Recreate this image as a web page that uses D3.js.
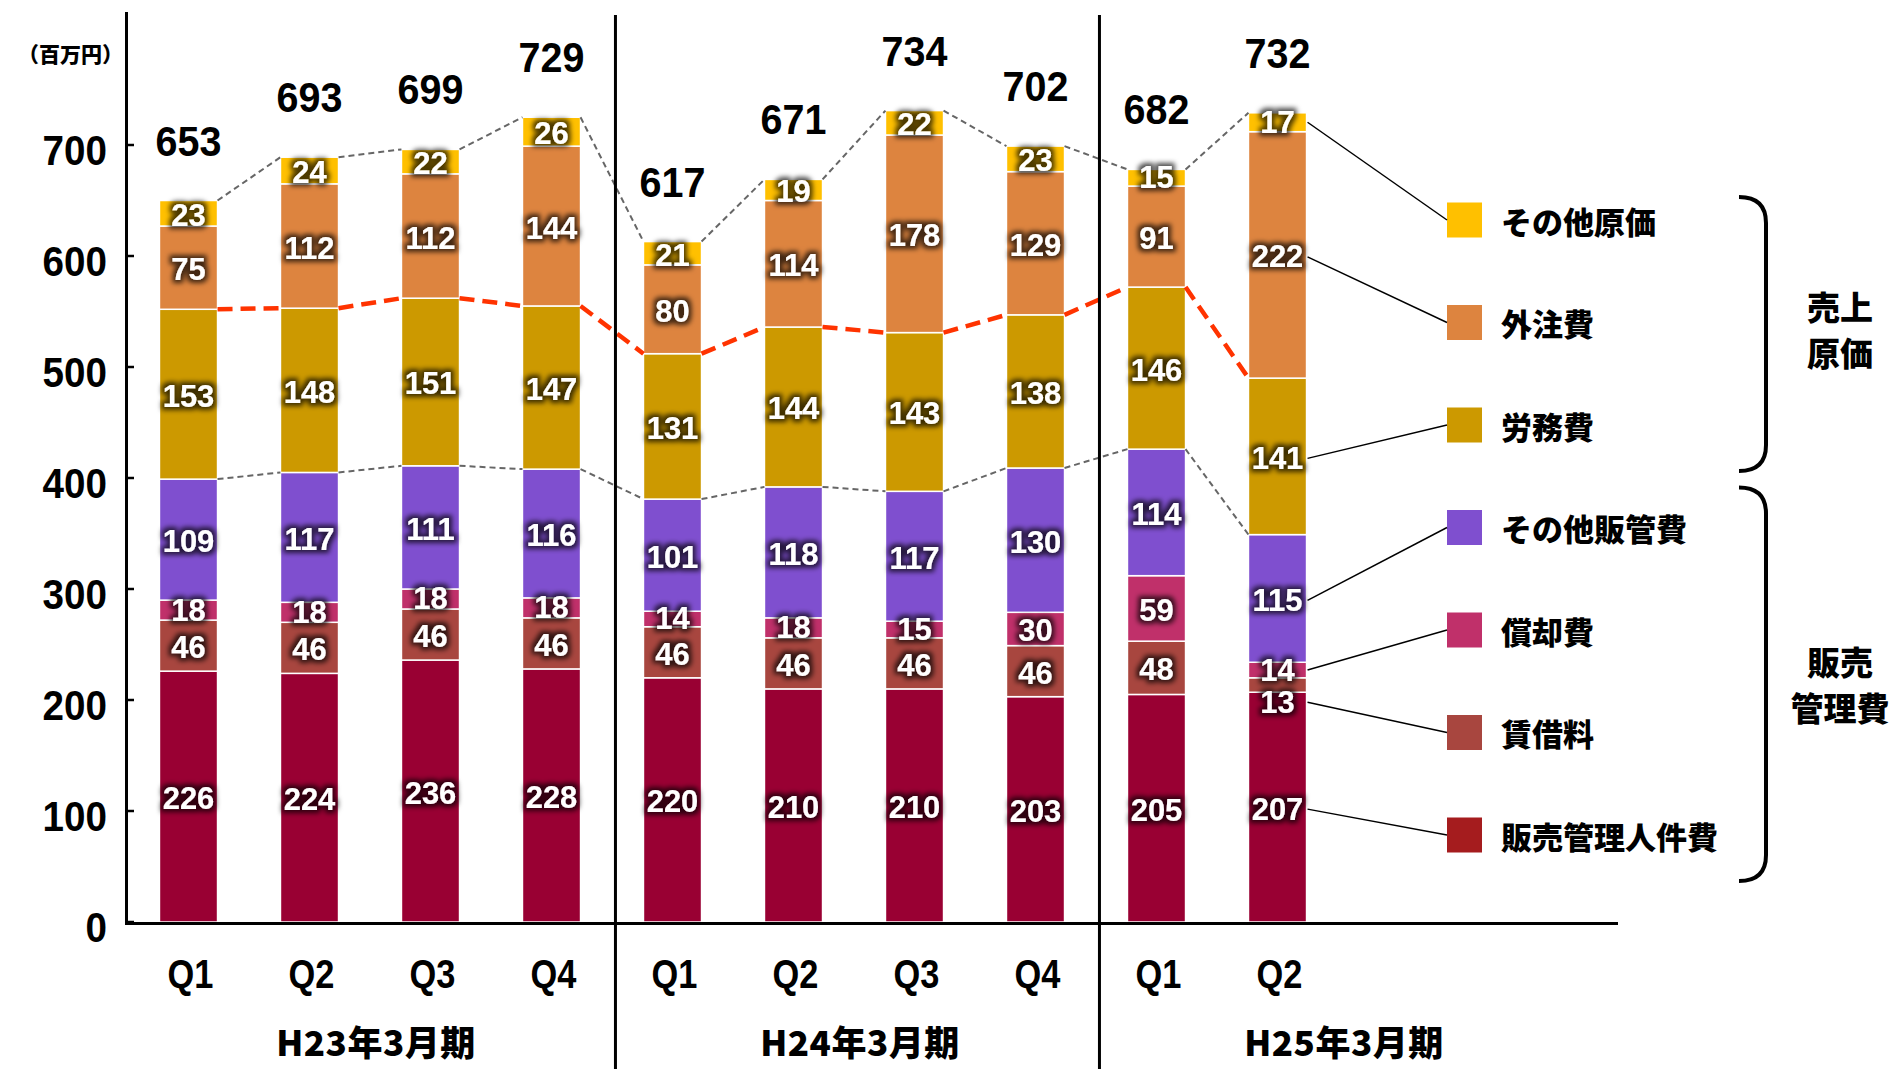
<!DOCTYPE html>
<html>
<head>
<meta charset="utf-8">
<script src="https://cdn.jsdelivr.net/npm/d3@7"></script>
<style>
  body { margin: 0; background: #fff; }
  svg { display: block; }
  .num { font-family: "Liberation Sans", Arial, sans-serif; font-weight: bold; }
  .jp { font-family: "Noto Sans CJK JP", sans-serif; font-weight: 900; }
</style>
</head>
<body>
<div id="chart"></div>
<script>
// data (百万円)
var quarters = ["Q1", "Q2", "Q3", "Q4", "Q1", "Q2", "Q3", "Q4", "Q1", "Q2"];
var periods = ["H23年3月期", "H24年3月期", "H25年3月期"];
var totals = [653, 693, 699, 729, 617, 671, 734, 702, 682, 732];

// stacked from the bottom up
var seriesNames = ["販売管理人件費", "賃借料", "償却費", "その他販管費", "労務費", "外注費", "その他原価"];
var jinkenhi     = [226, 224, 236, 228, 220, 210, 210, 203, 205, 207];
var chinshakuryo = [46, 46, 46, 46, 46, 46, 46, 46, 48, 13];
var shokyakuhi   = [18, 18, 18, 18, 14, 18, 15, 30, 59, 14];
var sonotaHankan = [109, 117, 111, 116, 101, 118, 117, 130, 114, 115];
var romuhi       = [153, 148, 151, 147, 131, 144, 143, 138, 146, 141];
var gaichuhi     = [75, 112, 112, 144, 80, 114, 178, 129, 91, 222];
var sonotaGenka  = [23, 24, 22, 26, 21, 19, 22, 23, 15, 17];

var yTicks = [0, 100, 200, 300, 400, 500, 600, 700];
var groups = [
  {name: ["売上", "原価"], from: 0, to: 2},
  {name: ["販売", "管理費"], from: 3, to: 6}
];

var barColors = ["#990033", "#A8463F", "#C0306A", "#7F4FCF", "#CC9900", "#DD843F", "#FFC000"];
var legendColors = ["#A51C1E", "#A8463F", "#C0306A", "#7F4FCF", "#CC9900", "#DD843F", "#FFC000"];

var values = [jinkenhi, chinshakuryo, shokyakuhi, sonotaHankan, romuhi, gaichuhi, sonotaGenka];
var rows = quarters.map(function(q, i) {
  var r = {i: i};
  seriesNames.forEach(function(s, k) { r[s] = values[k][i]; });
  return r;
});

var W = 1895, H = 1069;
var svg = d3.select("#chart").append("svg").attr("width", W).attr("height", H);

// dark halo behind the white segment numbers
var defs = svg.append("defs");
var f = defs.append("filter").attr("id", "glow")
  .attr("x", "-30%").attr("y", "-30%").attr("width", "160%").attr("height", "160%");
f.append("feMorphology").attr("in", "SourceAlpha").attr("operator", "dilate").attr("radius", 3).attr("result", "d");
f.append("feGaussianBlur").attr("in", "d").attr("stdDeviation", 2.5).attr("result", "b");
f.append("feFlood").attr("flood-color", "#000").attr("flood-opacity", 0.7);
f.append("feComposite").attr("in2", "b").attr("operator", "in").attr("result", "s");
var fm = f.append("feMerge");
fm.append("feMergeNode").attr("in", "s");
fm.append("feMergeNode").attr("in", "SourceGraphic");

// 12 slots: 10 quarters + 2 empty ones to the right
var x = d3.scaleBand().domain(d3.range(12)).range([128, 1580]).paddingInner(0.52).paddingOuter(0.26);
var y = d3.scaleLinear().domain([0, 700]).range([922, 145]);
var bw = x.bandwidth();

var layers = d3.stack().keys(seriesNames)(rows);

// squeeze numbers a little, the original font is narrower than Arial
function place(px, py, sx) {
  return "translate(" + px + "," + py + ") scale(" + sx + ",1)";
}

// bars
layers.forEach(function(layer, k) {
  svg.append("g").selectAll("rect").data(layer).enter().append("rect")
    .attr("x", function(d) { return x(d.data.i); })
    .attr("y", function(d) { return y(d[1]); })
    .attr("width", bw)
    .attr("height", function(d) { return y(d[0]) - y(d[1]); })
    .attr("fill", barColors[k])
    .attr("stroke", "#fff").attr("stroke-width", 1.5);
});

// connecting lines between bars
function connector(levelFn, stroke, width, dash) {
  var g = svg.append("g");
  rows.slice(0, -1).forEach(function(r, i) {
    g.append("line")
      .attr("x1", x(i) + bw).attr("y1", y(levelFn(i)))
      .attr("x2", x(i + 1)).attr("y2", y(levelFn(i + 1)))
      .attr("stroke", stroke).attr("stroke-width", width).attr("stroke-dasharray", dash);
  });
}
connector(function(i) { return layers[3][i][1]; }, "#666", 2, "6,4");
connector(function(i) { return layers[4][i][1]; }, "#FF3300", 4.5, "15,8");
connector(function(i) { return layers[6][i][1]; }, "#666", 2, "6,4");

// segment labels (too thin segments get the label just below)
function labelY(d) {
  var top = y(d[1]), bot = y(d[0]);
  if (bot - top < 15) return bot + 10;
  if (bot - top < 20) return (top + bot) / 2;
  return (top + bot) / 2 + 2;
}
layers.forEach(function(layer, k) {
  svg.append("g").selectAll("text").data(layer).enter().append("text")
    .attr("class", "num")
    .attr("transform", function(d) { return place(x(d.data.i) + bw / 2, labelY(d), 1); })
    .attr("text-anchor", "middle").attr("dominant-baseline", "central")
    .attr("font-size", 31)
    .attr("fill", "#fff").attr("filter", "url(#glow)")
    .text(function(d) { return d.data[seriesNames[k]]; });
});

// totals
svg.append("g").selectAll("text").data(totals).enter().append("text")
  .attr("class", "num")
  .attr("transform", function(d, i) { return place(x(i) + bw / 2, y(layers[6][i][1]) - 45, 0.94); })
  .attr("text-anchor", "middle").attr("font-size", 42)
  .text(function(d) { return d; });

// axes
svg.append("line").attr("x1", 126.5).attr("x2", 126.5).attr("y1", 12).attr("y2", 925)
  .attr("stroke", "#000").attr("stroke-width", 3);
svg.append("line").attr("x1", 125).attr("x2", 1618).attr("y1", 923.5).attr("y2", 923.5)
  .attr("stroke", "#000").attr("stroke-width", 3);
var yt = svg.append("g");
yTicks.forEach(function(v) {
  yt.append("line").attr("x1", 126).attr("x2", 134).attr("y1", y(v)).attr("y2", y(v))
    .attr("stroke", "#000").attr("stroke-width", 2.5);
  yt.append("text").attr("class", "num")
    .attr("transform", place(107, y(v) + 5, 0.92))
    .attr("text-anchor", "end").attr("dominant-baseline", "central")
    .attr("font-size", 42).text(v);
});
svg.append("text").attr("class", "jp").attr("x", 18).attr("y", 53)
  .attr("dominant-baseline", "central").attr("font-size", 21)
  .text("（百万円）");

// period dividers
[4, 8].forEach(function(s) {
  var xd = x(s) - 28;
  svg.append("line").attr("x1", xd).attr("x2", xd).attr("y1", 15).attr("y2", H)
    .attr("stroke", "#000").attr("stroke-width", 3);
});

// x labels
svg.append("g").selectAll("text").data(quarters).enter().append("text")
  .attr("class", "num")
  .attr("transform", function(d, i) { return place(x(i) + bw / 2 + 2, 974, 0.86); })
  .attr("text-anchor", "middle").attr("dominant-baseline", "central")
  .attr("font-size", 40)
  .text(function(d) { return d; });
svg.append("g").selectAll("text").data(periods).enter().append("text")
  .attr("class", "jp")
  .attr("x", function(d, p) { return (x(p * 4) + x(p * 4 + 3) + bw) / 2 + 6; })
  .attr("y", 1040).attr("text-anchor", "middle").attr("dominant-baseline", "central")
  .attr("font-size", 35).attr("letter-spacing", 0.5)
  .text(function(d) { return d; });

// legend, top to bottom = reverse of the stack
var legendX = 1447, sq = 35;
var ly = function(j) { return 220 + j * 102.5; };
var last = rows.length - 1;
var lg = svg.append("g");
seriesNames.slice().reverse().forEach(function(name, j) {
  var k = seriesNames.length - 1 - j;
  lg.append("rect").attr("x", legendX).attr("y", ly(j) - sq / 2)
    .attr("width", sq).attr("height", sq).attr("fill", legendColors[k]);
  lg.append("text").attr("class", "jp").attr("x", 1501).attr("y", ly(j))
    .attr("dominant-baseline", "central").attr("font-size", 31)
    .text(name);
  lg.append("line")
    .attr("x1", x(last) + bw + 1).attr("y1", labelY(layers[k][last]))
    .attr("x2", legendX).attr("y2", ly(j))
    .attr("stroke", "#000").attr("stroke-width", 1.5);
});

// braces grouping the legend
groups.forEach(function(g, n) {
  var t = ly(g.from) - (n === 0 ? 23 : 40), b = ly(g.to) + 46, xr = 1766, xl = 1739, r = 26;
  svg.append("path")
    .attr("d", "M" + xl + "," + t + " Q" + xr + "," + t + " " + xr + "," + (t + r) +
               " L" + xr + "," + (b - r) + " Q" + xr + "," + b + " " + xl + "," + b)
    .attr("fill", "none").attr("stroke", "#000").attr("stroke-width", 4);
  var mid = (t + b) / 2 - (n === 0 ? 5 : 0);
  g.name.forEach(function(line, m) {
    svg.append("text").attr("class", "jp")
      .attr("x", 1840).attr("y", mid + (m - 0.5) * 46)
      .attr("text-anchor", "middle").attr("dominant-baseline", "central")
      .attr("font-size", 33).text(line);
  });
});
</script>
</body>
</html>
